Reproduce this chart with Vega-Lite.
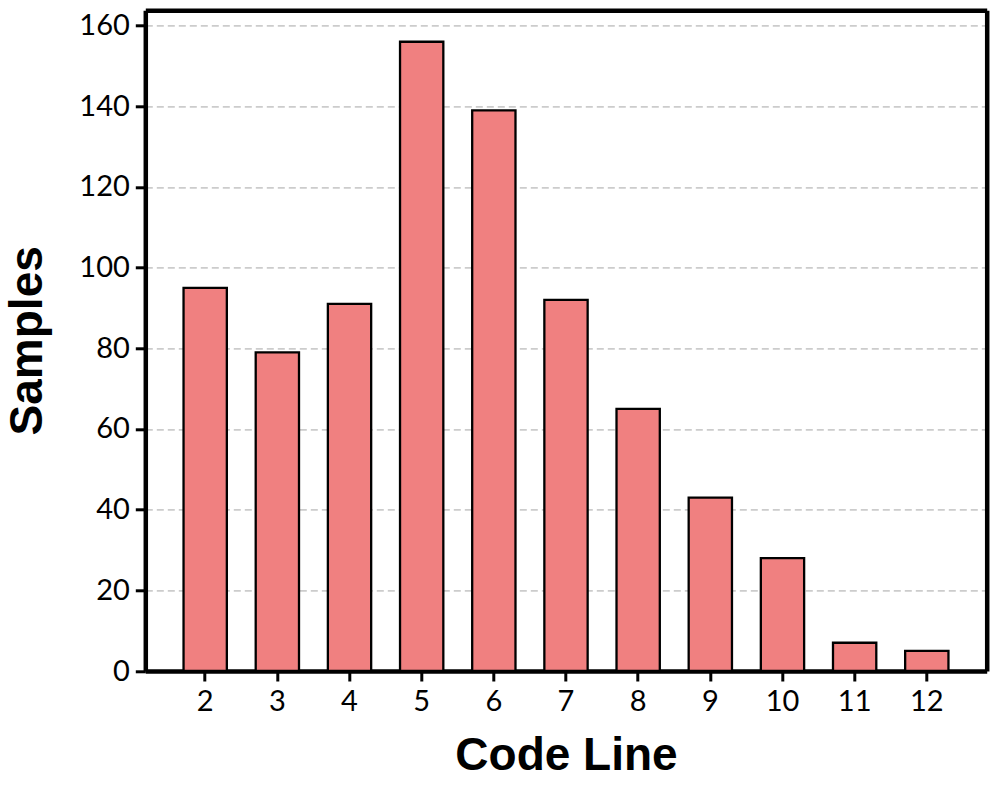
{
  "$schema": "https://vega.github.io/schema/vega-lite/v6.json",
  "width": 841.4,
  "height": 660.7,
  "autosize": {"type": "none"},
  "padding": {"left": 145.3, "top": 10.3, "right": 10.3, "bottom": 123},
  "background": "white",
  "config": {
    "view": {"stroke": null},
    "axis": {
      "domain": true,
      "domainColor": "black",
      "domainWidth": 4.5,
      "ticks": true,
      "tickColor": "black",
      "tickWidth": 3,
      "tickSize": 10,
      "labelFont": "Lato",
      "labelFontSize": 29,
      "labelColor": "black",
      "labelPadding": 6,
      "titleFont": "Liberation Sans",
      "titleFontWeight": "bold",
      "titleFontSize": 46,
      "titleColor": "black"
    }
  },
  "data": {
    "values": [
      {"code": 2, "samples": 95},
      {"code": 3, "samples": 79},
      {"code": 4, "samples": 91},
      {"code": 5, "samples": 156},
      {"code": 6, "samples": 139},
      {"code": 7, "samples": 92},
      {"code": 8, "samples": 65},
      {"code": 9, "samples": 43},
      {"code": 10, "samples": 28},
      {"code": 11, "samples": 7},
      {"code": 12, "samples": 5}
    ]
  },
  "layer": [
    {
      "mark": {"type": "bar", "fill": "#F08080", "stroke": "black", "strokeWidth": 2.3},
      "encoding": {
        "x": {
          "field": "code",
          "type": "ordinal",
          "scale": {"paddingInner": 0.4, "paddingOuter": 0.53},
          "axis": {
            "title": "Code Line",
            "labelAngle": 0,
            "grid": false,
            "titleY": 98,
            "titleBaseline": "alphabetic"
          }
        },
        "y": {
          "field": "samples",
          "type": "quantitative",
          "scale": {"domain": [0, 163.8], "nice": false, "zero": true},
          "axis": {
            "title": "Samples",
            "values": [0, 20, 40, 60, 80, 100, 120, 140, 160],
            "grid": true,
            "gridColor": "#cccccc",
            "gridWidth": 1.8,
            "gridDash": [7, 4],
            "titleX": -118,
            "titleY": 330,
            "titleBaseline": "middle",
            "titleAngle": -90
          }
        }
      }
    },
    {
      "mark": {"type": "bar", "opacity": 0},
      "encoding": {
        "x": {
          "field": "code",
          "type": "ordinal",
          "axis": {"orient": "top", "title": null, "labels": false, "ticks": false, "grid": false}
        },
        "y": {
          "field": "samples",
          "type": "quantitative",
          "axis": {"orient": "right", "title": null, "labels": false, "ticks": false, "grid": false}
        }
      }
    }
  ],
  "resolve": {"axis": {"x": "independent", "y": "independent"}}
}
